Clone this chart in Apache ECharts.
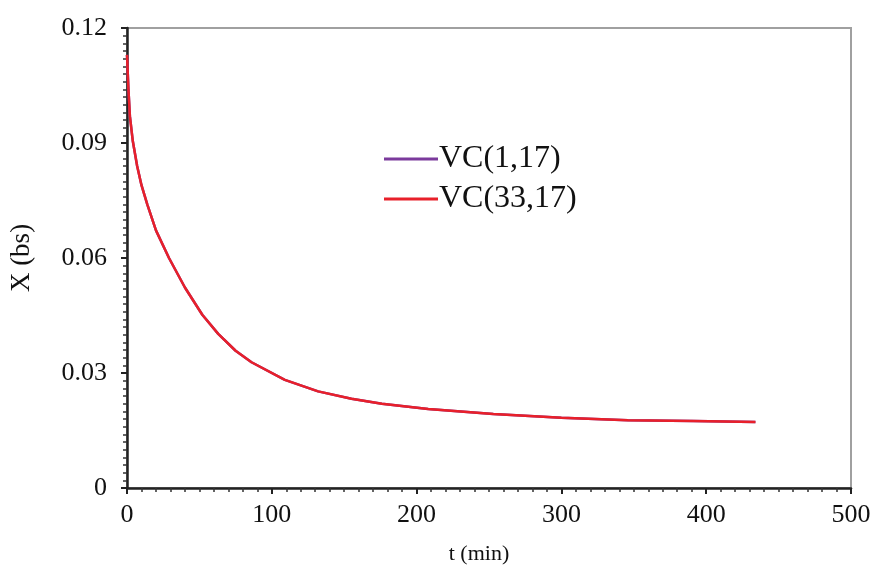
<!DOCTYPE html>
<html>
<head>
<meta charset="utf-8">
<script src="https://cdn.jsdelivr.net/npm/echarts@6/dist/echarts.min.js"></script>
<style>
html,body{margin:0;padding:0;background:#fff;}
#chart{width:877px;height:573px;}
</style>
</head>
<body>
<div id="chart"></div>
<script>
const seriesNames = ['VC(1,17)', 'VC(33,17)'];
const tValues = [0, 1, 2, 4, 7, 10, 14, 20, 29, 40, 52, 63, 75, 86, 109, 132, 155, 176, 208, 253, 300, 346, 391, 434];
const vc1_17 = [0.113, 0.104, 0.097, 0.0905, 0.084, 0.079, 0.074, 0.0672, 0.06, 0.0523, 0.0452, 0.0402, 0.0358, 0.0328, 0.0282, 0.0252, 0.0233, 0.022, 0.0206, 0.0193, 0.0183, 0.0177, 0.0175, 0.0172];
const vc33_17 = [0.113, 0.104, 0.097, 0.0905, 0.084, 0.079, 0.074, 0.0672, 0.06, 0.0523, 0.0452, 0.0402, 0.0358, 0.0328, 0.0282, 0.0252, 0.0233, 0.022, 0.0206, 0.0193, 0.0183, 0.0177, 0.0175, 0.0172];
const yTickLabels = ['0', '0.03', '0.06', '0.09', '0.12'];

const font = '"Liberation Serif", "DejaVu Serif", serif';
const chart = echarts.init(document.getElementById('chart'));
const pairs = arr => tValues.map((t, i) => [t, arr[i]]);

chart.setOption({
  animation: false,
  backgroundColor: '#fff',
  grid: { left: 125, top: 28, right: 26, bottom: 85, show: true, borderColor: '#a0a0a0', borderWidth: 2, backgroundColor: 'transparent' },
  legend: {
    orient: 'vertical', left: 379, top: 138,
    itemWidth: 54, itemHeight: 3, itemGap: 8, icon: 'rect',
    textStyle: { fontFamily: font, fontSize: 32, color: '#111', padding: [0, 0, 0, -4] },
    data: seriesNames
  },
  xAxis: {
    type: 'value', min: 0, max: 500, interval: 100, splitNumber: 5,
    name: 't (min)', nameLocation: 'middle', nameGap: 55,
    nameTextStyle: { fontFamily: font, fontSize: 22, color: '#111', padding: [0, 20, 0, 0] },
    axisLine: { show: true, lineStyle: { color: '#222', width: 2.5 } },
    axisTick: { show: true, inside: false, length: 6, lineStyle: { color: '#222', width: 2 } },
    minorTick: { show: true, splitNumber: 10, length: 4, lineStyle: { color: '#333', width: 1.5 } },
    splitLine: { show: false },
    axisLabel: { fontFamily: font, fontSize: 26, color: '#111', margin: 14 }
  },
  yAxis: {
    type: 'value', min: 0, max: 0.12, interval: 0.03,
    name: 'X (bs)', nameLocation: 'middle', nameGap: 92,
    nameTextStyle: { fontFamily: font, fontSize: 27, color: '#111' },
    axisLine: { show: true, lineStyle: { color: '#222', width: 2.5 } },
    axisTick: { show: true, inside: false, length: 6, lineStyle: { color: '#222', width: 2 } },
    minorTick: { show: true, splitNumber: 15, length: 4, lineStyle: { color: '#333', width: 1.5 } },
    splitLine: { show: false },
    axisLabel: {
      fontFamily: font, fontSize: 26, color: '#111', margin: 20,
      formatter: v => yTickLabels[Math.round(v / 0.03)]
    }
  },
  series: [
    {
      name: seriesNames[0], type: 'line', data: pairs(vc1_17),
      smooth: false, showSymbol: false, symbol: 'none',
      lineStyle: { color: '#7b3a9c', width: 2.5 }, itemStyle: { color: '#7b3a9c' }
    },
    {
      name: seriesNames[1], type: 'line', data: pairs(vc33_17),
      smooth: false, showSymbol: false, symbol: 'none',
      lineStyle: { color: '#e8202a', width: 2.5 }, itemStyle: { color: '#e8202a' }
    }
  ]
});
</script>
</body>
</html>
